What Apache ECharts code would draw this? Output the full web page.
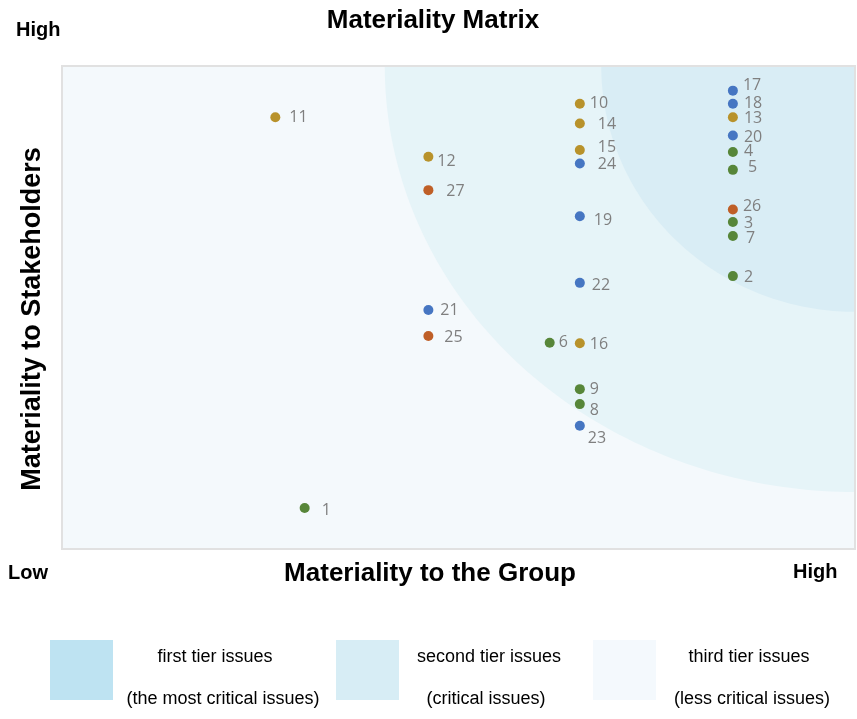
<!DOCTYPE html>
<html>
<head>
<meta charset="utf-8">
<script src="https://cdn.jsdelivr.net/npm/echarts@6/dist/echarts.min.js"></script>
<style>html,body{margin:0;padding:0;background:#fff}#c{width:857px;height:719px}</style>
</head>
<body>
<div id="c"></div>
<script>
// ---- data ----
var issueIds        = ['1','2','3','4','5','6','7','8','9','10','11','12','13','14','15','16','17','18','19','20','21','22','23','24','25','26','27'];
var groupScore      = [30.6,84.6,84.6,84.6,84.6,61.5,84.6,65.3,65.3,65.3,26.9,46.2,84.6,65.3,65.3,65.3,84.6,84.6,65.3,84.6,46.2,65.3,65.3,65.3,46.2,84.6,46.2];
var stakeholderScore= [8.5,56.5,67.7,82.2,78.5,42.7,64.8,30.0,33.1,92.2,89.4,81.2,89.4,88.1,82.6,42.6,94.9,92.2,68.9,85.6,49.5,55.1,25.5,79.8,44.1,70.3,74.3];
var issueCategory   = ['C','C','C','C','C','C','C','C','C','B','B','B','B','B','B','B','A','A','A','A','A','A','A','A','D','D','D'];
var categories      = ['A','B','C','D'];
// tier boundaries: [x where boundary meets top edge, y where boundary meets right edge]
var tierNames   = ['first tier issues','second tier issues','third tier issues'];
var tierNotes   = ['(the most critical issues)','(critical issues)','(less critical issues)'];
var tierBounds  = [[68.0,49.1],[40.7,11.8]];

// ---- styles (not data) ----
var catColors = {A:'#4676c2', B:'#b8922b', C:'#578639', D:'#bf5f27'};
var tierFill = ['#d9edf5','#e6f4f8','#f4f9fc'];
var legendFill = ['#bee3f2','#d7edf5','#f4f9fd'];
var labelOffsets = {
 '1':[3,2],'2':[-3,1],'3':[-3,1],'4':[-3,-1],'5':[1,-2],'6':[-5,0],'7':[-1,2],'8':[-4,6],'9':[-4,0],
 '10':[-4,0],'11':[0,0],'12':[-5,5],'13':[-3,1],'14':[4,1],'15':[4,-3],'16':[-4,1],'17':[-4,-5],
 '18':[-3,0],'19':[0,4],'20':[-3,2],'21':[-2,1],'22':[-2,3],'23':[-6,13],'24':[4,1],'25':[2,1],
 '26':[-4,-3],'27':[4,1]
};

var chart = echarts.init(document.getElementById('c'));

var scatterSeries = categories.map(function(cat){
  var data = [];
  issueIds.forEach(function(id,i){
    if (issueCategory[i] === cat) {
      data.push({name:id, value:[groupScore[i], stakeholderScore[i]], label:{offset:labelOffsets[id]||[0,0]}});
    }
  });
  return {
    type:'scatter', name:cat, data:data, symbolSize:10, z:3,
    itemStyle:{color:catColors[cat], opacity:1},
    label:{show:true, position:'right', distance:9, formatter:'{b}', color:'#7f7f7f',
           fontFamily:'Open Sans', fontSize:16},
    emphasis:{disabled:true}, silent:true
  };
});

var bgSeries = {
  type:'custom', z:1, silent:true, clip:false,
  data:[0],
  renderItem:function(params, api){
    var tl = api.coord([0,100]), br = api.coord([100,0]);
    var C = api.coord([100,100]);
    var children = [{
      type:'rect', shape:{x:tl[0], y:tl[1], width:br[0]-tl[0], height:br[1]-tl[1]},
      style:{fill:tierFill[2]}
    }];
    for (var t = tierBounds.length-1; t >= 0; t--) {
      var rx = C[0] - api.coord([tierBounds[t][0],100])[0];
      var ry = api.coord([100,tierBounds[t][1]])[1] - C[1];
      var pts = [[C[0],C[1]]];
      for (var k = 0; k <= 90; k++) {
        var a = k*Math.PI/180;
        pts.push([C[0]-rx*Math.cos(a), C[1]+ry*Math.sin(a)]);
      }
      children.push({type:'polygon', shape:{points:pts}, style:{fill:tierFill[t]}});
    }
    children.push({
      type:'rect', shape:{x:tl[0], y:tl[1], width:br[0]-tl[0], height:br[1]-tl[1]},
      style:{fill:null, stroke:'#e1e1e1', lineWidth:2}
    });
    return {type:'group', children:children};
  }
};

var F = '"Liberation Sans", Arial, sans-serif';
var graphics = [
  {type:'text', x:433, y:21, style:{text:'Materiality Matrix', font:'bold 26px '+F, fill:'#000', align:'center', verticalAlign:'middle'}},
  {type:'text', x:16, y:30, style:{text:'High', font:'bold 20px '+F, fill:'#000', verticalAlign:'middle'}},
  {type:'text', x:8, y:573, style:{text:'Low', font:'bold 20px '+F, fill:'#000', verticalAlign:'middle'}},
  {type:'text', x:793, y:572, style:{text:'High', font:'bold 20px '+F, fill:'#000', verticalAlign:'middle'}},
  {type:'text', x:430, y:574, style:{text:'Materiality to the Group', font:'bold 26px '+F, fill:'#000', align:'center', verticalAlign:'middle'}},
  {type:'text', x:33, y:319, rotation:Math.PI/2, style:{text:'Materiality to Stakeholders', font:'bold 27px '+F, fill:'#000', align:'center', verticalAlign:'middle'}}
];
var legX = [50,336,593], txtX = [215,489,749], noteX = [223,486,752];
for (var i=0;i<3;i++){
  graphics.push({type:'rect', shape:{x:legX[i], y:640, width:63, height:60}, style:{fill:legendFill[i]}});
  graphics.push({type:'text', x:txtX[i], y:657, style:{text:tierNames[i], font:'18px '+F, fill:'#000', align:'center', verticalAlign:'middle'}});
  graphics.push({type:'text', x:noteX[i], y:699, style:{text:tierNotes[i], font:'18px '+F, fill:'#000', align:'center', verticalAlign:'middle'}});
}

chart.setOption({
  animation:false,
  grid:{left:62, right:2, top:66, bottom:170, show:false},
  xAxis:{type:'value', min:0, max:100, show:false},
  yAxis:{type:'value', min:0, max:100, show:false},
  graphic:graphics,
  series:[bgSeries].concat(scatterSeries)
});
</script>
</body>
</html>
